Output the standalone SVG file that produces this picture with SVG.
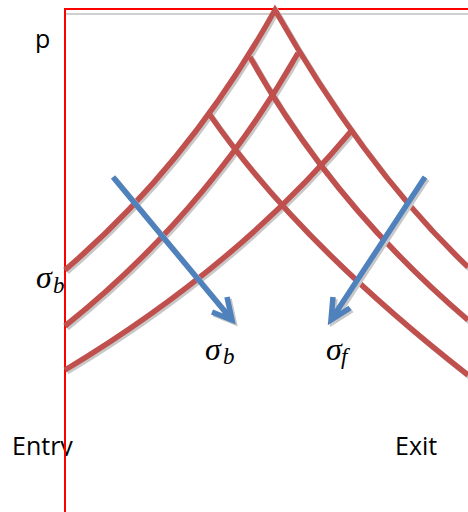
<svg xmlns="http://www.w3.org/2000/svg" xmlns:xlink="http://www.w3.org/1999/xlink" width="468" height="512" viewBox="0 0 468 512">
<style>
.txt{font-family:"Open Sans","Liberation Sans",sans-serif;font-size:25px;fill:#000}
.math{font-family:"Liberation Serif","DejaVu Serif",serif;font-style:italic;fill:#000}
.sig{font-size:32px}
.sub{font-size:23px}
.wave{fill:none;stroke:#C0504D;stroke-width:5.5;stroke-linejoin:miter;stroke-linecap:butt}
.arr{fill:none;stroke:#4F81BD;stroke-width:5.5;stroke-linejoin:miter;stroke-linecap:butt}
.shadow{fill:none;stroke:#c8c8c8;stroke-width:5.5;stroke-linejoin:miter}
.axis{fill:none;stroke:#FF0000;stroke-width:2}
</style>
<defs>
<path id="w1" d="M65,270 Q189,164 275,10 Q366,170 468,267"/>
<path id="w2" d="M65,326 Q207,212.5 298,53"/>
<path id="w3" d="M65,370 Q239,265.6 353,129"/>
<path id="wB" d="M250,57 Q332,204 468,320"/>
<path id="wC" d="M210,115 Q298,242 468,375"/>
<path id="a1" d="M113,177 L232,320 M212,312 L232,320 L227,297"/>
<path id="a2" d="M425,177 L331,320 M333,297 L331,320 L350,308"/>
<clipPath id="clipEntry"><rect x="0" y="420" width="120" height="36"/></clipPath>
<clipPath id="clipP"><rect x="20" y="20" width="50" height="33"/></clipPath>
</defs>
<rect width="468" height="512" fill="#fff"/>
<g id="labels">
<text class="txt" x="35" y="48" clip-path="url(#clipP)">p</text>
<text class="txt" x="12" y="455" clip-path="url(#clipEntry)">Entry</text>
<text class="txt" x="395" y="455">Exit</text>
</g>
<g id="frame">
<line x1="66" y1="14" x2="468" y2="14" stroke="#d0d0d0" stroke-width="2"/>
<line class="axis" x1="65" y1="9" x2="468" y2="9"/>
<line class="axis" x1="65" y1="8" x2="65" y2="512"/>
</g>
<g id="waves">
<g transform="translate(2,2)" class="shadow">
<use xlink:href="#w1"/><use xlink:href="#w2"/><use xlink:href="#w3"/><use xlink:href="#wB"/><use xlink:href="#wC"/>
</g>
<g class="wave">
<use xlink:href="#w1"/><use xlink:href="#w2"/><use xlink:href="#w3"/><use xlink:href="#wB"/><use xlink:href="#wC"/>
</g>
</g>
<g id="connectors">
<g transform="translate(2,2)" class="shadow">
<use xlink:href="#a1"/><use xlink:href="#a2"/>
</g>
<g class="arr">
<use xlink:href="#a1"/><use xlink:href="#a2"/>
</g>
</g>
<g id="math-labels">
<text class="math" x="36" y="288"><tspan class="sig">σ</tspan><tspan class="sub" x="53" y="293">b</tspan></text>
<text class="math" x="205" y="360"><tspan class="sig">σ</tspan><tspan class="sub" x="223" y="364">b</tspan></text>
<text class="math" x="326" y="360"><tspan class="sig">σ</tspan><tspan class="sub" x="341" y="364">f</tspan></text>
</g>
</svg>
